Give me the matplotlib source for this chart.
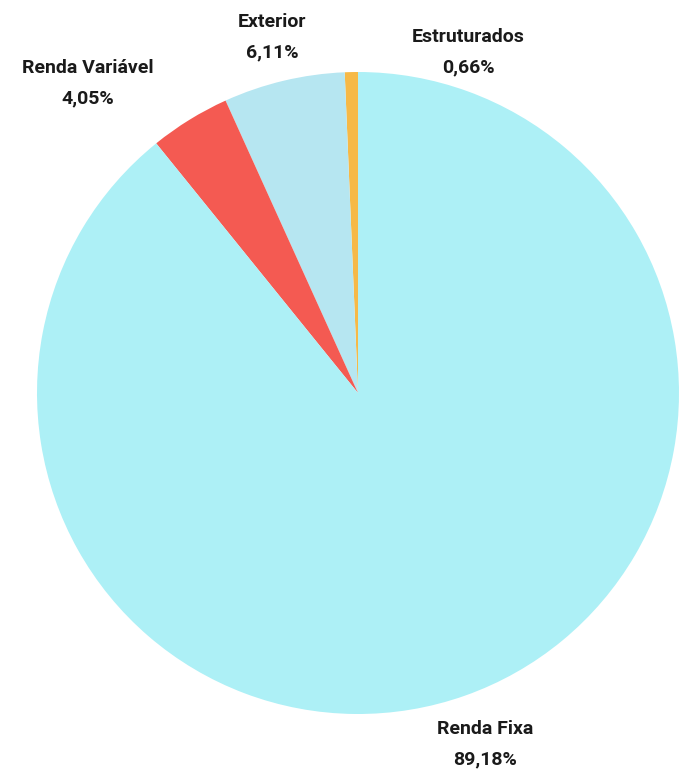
import matplotlib
matplotlib.use("Agg")
import matplotlib.pyplot as plt

categories = ["Estruturados", "Exterior", "Renda Variável", "Renda Fixa"]
values = [0.66, 6.11, 4.05, 89.18]
value_labels = ["0,66%", "6,11%", "4,05%", "89,18%"]
colors = ["#f6b947", "#b6e6f1", "#f45a52", "#adf0f6"]

W, H = 679, 770
cx, cy, R = 358, 393, 321

fig = plt.figure(figsize=(W / 100, H / 100), dpi=100)
ax = fig.add_axes([0, 0, 1, 1])
ax.pie(values, colors=colors, startangle=90, counterclock=True, radius=1,
       wedgeprops=dict(linewidth=0))
ax.set_aspect("auto")
ax.set_xlim(-cx / R, (W - cx) / R)
ax.set_ylim(-(H - cy) / R, cy / R)
ax.axis("off")

# label centres in pixel space (layout only)
label_px = [(468, 52), (272, 37), (88, 83), (485, 744)]
for cat, vl, (px, py) in zip(categories, value_labels, label_px):
    ax.text((px - cx) / R, (cy - py) / R, f"{cat}\n{vl}", ha="center", va="center",
            fontsize=14, fontweight="bold", family="Roboto", color="#1a1a1a",
            linespacing=1.85)

fig.savefig("out.png", dpi=100)
